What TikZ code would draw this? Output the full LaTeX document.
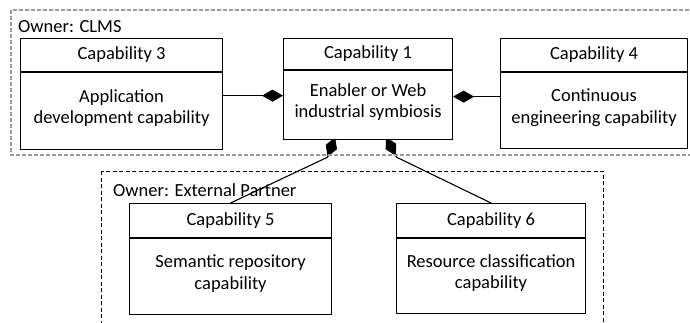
\documentclass[tikz,border=0pt]{standalone}
\usepackage{fontspec}
\setmainfont{Carlito}
\usetikzlibrary{positioning,arrows.meta,backgrounds}

\begin{document}
\begin{tikzpicture}[x=1pt,y=1pt,font=\fontsize{18.5}{21.5}\selectfont,
    head/.style={rectangle,draw,fill=white,line width=1.1pt,minimum height=33pt,inner sep=0pt},
    body/.style={rectangle,draw,fill=white,line width=1.1pt,inner sep=0pt},
    bodytext/.style={label={[align=center,yshift=3pt]center:#1}},
    owner/.style={anchor=base west,inner sep=0pt},
    comp/.style={-{Diamond[length=21pt,width=12pt,fill=black]},line width=1.1pt}]

            \useasboundingbox (0,0) rectangle (690,-322);

            % owner frames
            \draw[gray!80,line width=1.2pt,dash pattern=on 4pt off 2pt] (11,-10) rectangle (700,-155);
            \draw[line width=0.8pt,dash pattern=on 4pt off 2.5pt] (101,-171) rectangle (603,-330);
            \node[owner] (own1) at (18,-32) {Owner: CLMS};
            \node[owner] (own2) at (113,-196) {Owner: External Partner};

            \node[head, minimum width=169pt, minimum height=31pt, anchor=north west] (c1h) at (283,-38) {Capability 1};
            \node[body, minimum width=169pt, minimum height=69pt, bodytext={Enabler or Web\\industrial symbiosis}] (c1b) [below=0pt of c1h] {};

            \node[head, minimum width=202pt, anchor=north west] (c3h) at (20,-38) {Capability 3};
            \node[body, minimum width=202pt, minimum height=77pt, bodytext={Application\\development capability}] (c3b) [below=0pt of c3h] {};

            \node[head, minimum width=187pt, anchor=north west] (c4h) at (500,-38) {Capability 4};
            \node[body, minimum width=187pt, minimum height=76pt, bodytext={Continuous\\engineering capability}] (c4b) [below=0pt of c4h] {};

            \node[head, minimum width=202pt, minimum height=34pt, anchor=north west] (c5h) at (129,-203) {Capability 5};
            \node[body, minimum width=202pt, minimum height=76pt, bodytext={Semantic repository\\capability}] (c5b) [below=0pt of c5h] {};

            \node[head, minimum width=189pt, minimum height=34pt, anchor=north west] (c6h) at (396,-203) {Capability 6};
            \node[body, minimum width=189pt, minimum height=75pt, bodytext={Resource classification\\capability}] (c6b) [below=0pt of c6h] {};

            \begin{scope}[on background layer]
                \draw[comp] ([yshift=15.5]c3b.east) -- ([yshift=9.5]c1b.west);
                \draw[comp] ([yshift=14]c4b.west) -- ([yshift=8.5]c1b.east);
                \draw[comp] (c5h.north) -- ([xshift=-40.5,yshift=-17]c1b.south) -- ([xshift=-33,yshift=3]c1b.south);
                \draw[comp] (c6h.north) -- ([xshift=28.5,yshift=-17]c1b.south) -- ([xshift=18,yshift=3]c1b.south);
            \end{scope}
        \end{tikzpicture}
\end{document}
